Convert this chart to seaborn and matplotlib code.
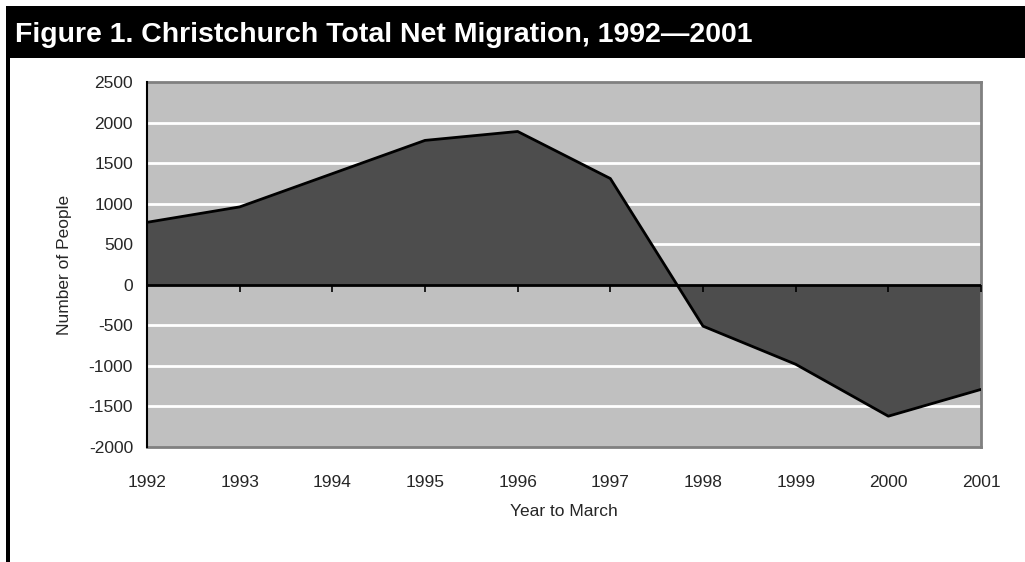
import matplotlib
matplotlib.use("Agg")
import matplotlib.pyplot as plt
from matplotlib.patches import Rectangle
import seaborn as sns
import pandas as pd

years = [1992, 1993, 1994, 1995, 1996, 1997, 1998, 1999, 2000, 2001]
net_migration = [770, 960, 1370, 1780, 1890, 1310, -510, -980, -1620, -1290]
y_ticks = [-2000, -1500, -1000, -500, 0, 500, 1000, 1500, 2000, 2500]

df = pd.DataFrame({"Year": years, "Net": net_migration})

sns.set_style("white", {"axes.facecolor": "#C0C0C0"})
plt.rcParams["font.family"] = ["Liberation Sans", "DejaVu Sans"]

W, H = 1025, 562
fig = plt.figure(figsize=(W / 100, H / 100), dpi=100)
fig.patch.set_facecolor("white")
ax = fig.add_axes([147 / W, 1 - 447 / H, (981 - 147) / W, (447 - 82) / H])

# gridlines behind the area
for t in y_ticks[1:-1]:
    if t != 0:
        ax.axhline(t, color="white", lw=2, zorder=1)

ax.fill_between(df["Year"], df["Net"], 0, color="#4D4D4D", zorder=2, lw=0)
sns.lineplot(data=df, x="Year", y="Net", ax=ax, color="black", lw=2, zorder=3)
ax.axhline(0, color="black", lw=2, zorder=4)

ax.set_xlim(years[0], years[-1])
ax.set_ylim(-2000, 2500)
ax.set_yticks(y_ticks)
ax.set_yticklabels([str(t) for t in y_ticks], fontsize=12.5)
ax.set_xticks(years)
ax.set_xticklabels([str(y) for y in years], fontsize=12.5)
ax.tick_params(axis="x", length=0, pad=20)
ax.tick_params(axis="y", length=6, width=1.2, direction="out", color="black", pad=4)

for side in ["top", "right", "bottom"]:
    ax.spines[side].set_color("#808080")
    ax.spines[side].set_linewidth(2)
ax.spines["left"].set_color("black")
ax.spines["left"].set_linewidth(1.5)
ax.spines["left"].set_zorder(5)

# tick marks on the zero line
zero_pos = (0 - (-2000)) / 4500
sec = ax.secondary_xaxis(zero_pos)
sec.set_zorder(6)
sec.set_xticks(years)
sec.set_xticklabels([])
sec.xaxis.set_ticks_position("bottom")
sec.tick_params(axis="x", length=5, width=1.2, direction="out", color="black")
sec.spines["bottom"].set_visible(False)
sec.spines["top"].set_visible(False)

ax.set_xlabel("Year to March", fontsize=12.5, labelpad=10)
ax.set_ylabel("Number of People", fontsize=12.5, labelpad=12)

# title bar and left frame line
fig.patches.append(Rectangle((6 / W, 1 - 58 / H), 1 - 6 / W, 52 / H, transform=fig.transFigure,
                             facecolor="black", edgecolor="none", zorder=0))
fig.patches.append(Rectangle((6 / W, 0), 4 / W, 1 - 6 / H, transform=fig.transFigure,
                             facecolor="black", edgecolor="none", zorder=0))
fig.text(15 / W, 1 - 35 / H, "Figure 1. Christchurch Total Net Migration, 1992\u20142001",
         color="white", fontsize=20.5, fontweight="bold", va="center", ha="left")

fig.savefig("out.png", dpi=100)
